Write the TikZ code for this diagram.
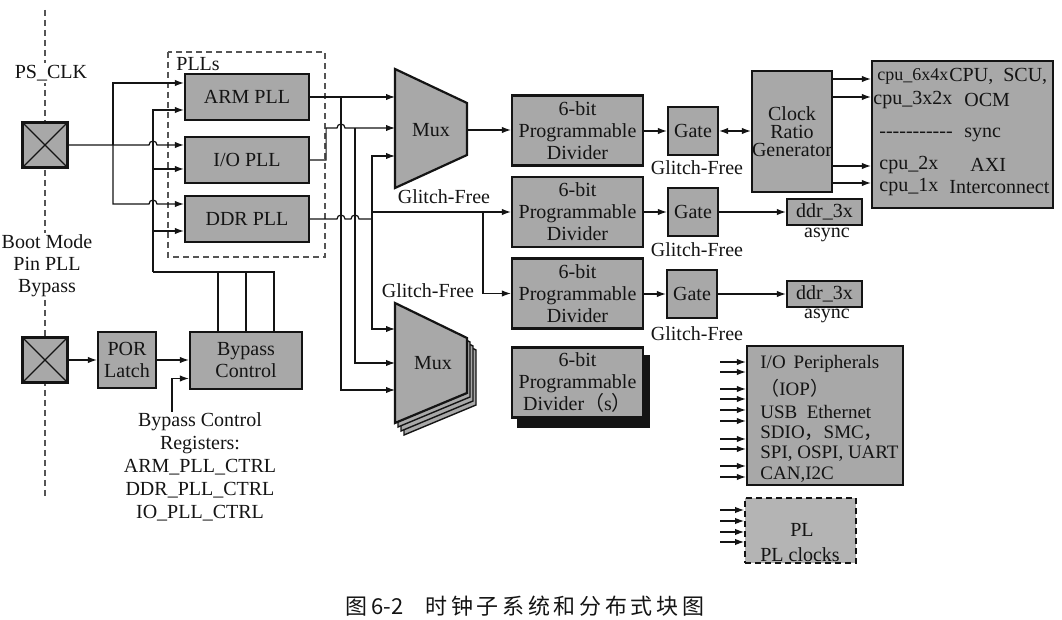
\documentclass[tikz,border=0pt]{standalone}
\usepackage{fontspec}
\setmainfont{Liberation Serif}
\newfontfamily\cjk{Noto Sans CJK SC}
\usepackage{tikz}
\usetikzlibrary{arrows.meta,positioning,calc,backgrounds}
\definecolor{Ink}{HTML}{141414}
\definecolor{Block}{HTML}{A8A8A8}
\definecolor{PLFill}{HTML}{B4B4B4}
\definecolor{Pin}{HTML}{555555}
\tikzset{
  blk/.style={draw=Ink,line width=1.1pt,fill=Block,align=center,inner sep=0pt,text=Ink,font=\fontsize{10}{11}\selectfont},
  pad/.style={blk,minimum width=22.5pt,minimum height=22.5pt},
  pllbox/.style={blk,minimum width=62pt,minimum height=23pt},
  divbox/.style={blk,minimum width=65.5pt,minimum height=35pt},
  gatebox/.style={blk,minimum width=25pt,minimum height=24pt},
  muxbody/.style={draw=Ink,line width=1.1pt,fill=Block,line join=miter},
  wire/.style={line width=0.6pt,draw=Ink},
  arr/.style={-{Latex[length=4.5pt,width=3.2pt]},line width=0.6pt,draw=Ink},
  arrboth/.style={{Latex[length=4.5pt,width=3.2pt]}-{Latex[length=4.5pt,width=3.2pt]},line width=0.6pt,draw=Ink},
  lbl/.style={font=\fontsize{10}{11}\selectfont,text=Ink,align=center,inner sep=0pt},
  grp/.style={draw=Pin,line width=0.6pt,dash pattern=on 3pt off 2pt}
}
\begin{document}
\begin{tikzpicture}[x=0.5pt,y=-0.5pt]
\useasboundingbox (0,0) rectangle (1062,620);
% PS pin boundary
\draw[grp] (45,10) -- (45,497);
\node[lbl,fill=white,inner sep=1pt] (psclk) at (51,73) {PS\_CLK};
\node[lbl,fill=white,inner sep=1pt] (bootmode) at (47,266) {Boot Mode\\Pin PLL\\Bypass};
\node[pad] (clkpad) at (45,145) {};
\node[pad] (bootpad) at (45,360) {};
\draw[wire] (clkpad.north west) -- (clkpad.south east) (clkpad.north east) -- (clkpad.south west);
\draw[wire] (bootpad.north west) -- (bootpad.south east) (bootpad.north east) -- (bootpad.south west);

% PLLs
\draw[grp] (168,52) rectangle (325,257);
\node[lbl,anchor=west] (pllslbl) at (176,64) {PLLs};
\node[pllbox] (armpll) at (247,97) {ARM PLL};
\node[pllbox] (iopll) at (247,160) {I/O PLL};
\node[pllbox] (ddrpll) at (247,219) {DDR PLL};
\coordinate (armin1) at ($(armpll.west)+(0,-14)$);
\coordinate (armin2) at ($(armpll.west)+(0,13)$);
\coordinate (ioin1) at ($(iopll.west)+(0,-15)$);
\coordinate (ioin2) at ($(iopll.west)+(0,9)$);
\coordinate (ddrin1) at ($(ddrpll.west)+(0,-15)$);
\coordinate (ddrin2) at ($(ddrpll.west)+(0,12)$);
\coordinate (ckA) at (113,145);
\coordinate (bpA) at (153,272);
\draw[arr] (clkpad.east) -- (149,145) arc (180:360:4) -- (ioin1);
\draw[arr] (ckA) |- (armin1);
\draw[arr] (ckA) |- ($(ddrin1 -| bpA)+(-4,0)$) arc (180:360:4) -- (ddrin1);
\draw[arr] (bpA) |- (armin2);
\draw[arr] (ioin2 -| bpA) -- (ioin2);
\draw[arr] (ddrin2 -| bpA) -- (ddrin2);

% bypass path
\node[blk,minimum width=29pt,minimum height=28pt] (por) at (127,360) {POR\\Latch};
\node[blk,minimum width=56pt,minimum height=28.5pt] (byp) at (246,360.5) {Bypass\\Control};
\draw[arr] (bootpad.east) -- (por.west);
\draw[arr] (por.east) -- (por.east -| byp.west);
\draw[wire] (bpA) -- ++(122,0);
\foreach \dx in {-28,0,28}
  \draw[wire] ($(byp.north)+(\dx,0)$) -- ++(0,-60);
\node[lbl,anchor=north,font=\fontsize{10}{11.5}\selectfont] (regs) at (200,412) {Bypass Control\\Registers:\\ARM\_PLL\_CTRL\\DDR\_PLL\_CTRL\\IO\_PLL\_CTRL};
\coordinate (regup) at (172,412);
\draw[arr] (regup) |- ($(byp.west)+(0,18)$);

% multiplexers
\draw[muxbody] (395,69) -- (467,103) -- (467,155) -- (395,188) -- cycle;
\node[lbl] (mux1) at (431,130) {Mux};
\foreach \d in {3,2,1}
  \draw[muxbody,line width=0.7pt,shift={(3*\d,4*\d)}] (395,303) -- (467,338) -- (467,393) -- (395,423) -- cycle;
\draw[muxbody] (395,303) -- (467,338) -- (467,393) -- (395,423) -- cycle;
\node[lbl] (mux2) at (433,363) {Mux};
\node[lbl] (gfm1) at (444,197) {Glitch-Free};
\node[lbl] (gfm2) at (428,291) {Glitch-Free};
\coordinate (m1i1) at (395,97);
\coordinate (m1i2) at (395,128);
\coordinate (m1i3) at (395,156);
\coordinate (m2i1) at (395,329);
\coordinate (m2i2) at (395,363);
\coordinate (m2i3) at (395,390);
\coordinate (mux1e) at (467,130);

% PLL outputs to the muxes
\coordinate (armbus) at (341,97);
\coordinate (iobus) at (355,128);
\coordinate (ddrbus) at (372,219);
\draw[arr] (armpll.east) -- (m1i1);
\draw[arr] (armbus) |- (m2i3);
\draw[arr] (iopll.east) -- ++(16,0) |- (337,128) arc (180:360:4) -- (m1i2);
\draw[arr] (iobus) |- (m2i2);
\draw[wire] (ddrpll.east) -- (337,219) arc (180:360:4) -- (351,219) arc (180:360:4) -- (ddrbus);
\draw[arr] (ddrbus) |- (m1i3);
\draw[arr] (ddrbus) |- (m2i1);

% dividers
\node[divbox] (div1) at (577.5,130.5) {6-bit\\Programmable\\Divider};
\node[divbox] (div2) at (577.5,212) {6-bit\\Programmable\\Divider};
\node[divbox] (div3) at (577.5,293.5) {6-bit\\Programmable\\Divider};
\node[divbox] (divs) at (577.5,382.5) {6-bit\\Programmable\\Divider{\cjk （}s{\cjk ）}};
\begin{scope}[on background layer]
  \fill[Ink] ($(divs.north west)+(6,9)$) rectangle ($(divs.south east)+(6,9)$);
\end{scope}
\coordinate (ddrbr) at (372,212);
\coordinate (d3br) at (483,212);
\draw[arr] (mux1e) -- (mux1e -| div1.west);
\draw[arr] (ddrbr) -- (div2.west);
\draw[arr] (d3br) |- (div3.west);

% gates
\node[gatebox] (gate1) at (693,131) {Gate};
\node[gatebox] (gate2) at (693,212) {Gate};
\node[gatebox] (gate3) at (692,294) {Gate};
\node[lbl] (gf1) at (697,168) {Glitch-Free};
\node[lbl] (gf2) at (697,250) {Glitch-Free};
\node[lbl] (gf3) at (697,334) {Glitch-Free};
\draw[arr] (div1.east |- gate1.west) -- (gate1.west);
\draw[arr] (div2.east) -- (gate2.west);
\draw[arr] (div3.east |- gate3.west) -- (gate3.west);

% clock ratio generator and CPU domain
\node[blk,minimum width=40pt,minimum height=60.5pt,font=\fontsize{10}{9}\selectfont] (crg) at (792,131.5) {Clock\\Ratio\\Generator};
\draw[arrboth] (gate1.east) -- (gate1.east -| crg.west);
\node[blk,minimum width=90.5pt,minimum height=73.5pt] (cpu) at (962.5,134.5) {};
\foreach \y in {79,97,166,183}
  \draw[arr] (crg.east |- 0,\y) -- (cpu.west |- 0,\y);
\node[lbl,anchor=west,font=\fontsize{9}{10}\selectfont] (cpuA) at (877,76) {cpu\_6x4x};
\node[lbl,anchor=west] (cpuAr) at (949,76) {CPU,\ \ SCU,};
\node[lbl,anchor=west] (cpuB) at (873,100) {cpu\_3x2x};
\node[lbl,anchor=west] (cpuBr) at (964,100) {OCM};
\node[lbl,anchor=west] (cpuC) at (879,135) {{-}{-}{-}{-}{-}{-}{-}{-}{-}{-}{-}};
\node[lbl,anchor=west] (cpuCr) at (964,135) {sync};
\node[lbl,anchor=west] (cpuD) at (879,165) {cpu\_2x};
\node[lbl,anchor=west] (cpuDr) at (970,165) {AXI};
\node[lbl,anchor=west] (cpuE) at (879,187) {cpu\_1x};
\node[lbl,anchor=west] (cpuEr) at (949,187) {Interconnect};

% async DDR clocks
\node[blk,minimum width=37.5pt,minimum height=13pt] (ddr3a) at (824.5,212) {ddr\_3x};
\node[blk,minimum width=37.5pt,minimum height=13pt] (ddr3b) at (824.5,294) {ddr\_3x};
\node[lbl] (asy1) at (827,235) {async};
\node[lbl] (asy2) at (827,316) {async};
\draw[arr] (gate2.east) -- (ddr3a.west);
\draw[arr] (gate3.east) -- (ddr3b.west);

% I/O peripherals
\node[blk,minimum width=78pt,minimum height=69.5pt] (iop) at (825,415.5) {};
\foreach \y/\t [count=\i] in {364/{I/O\hspace{4pt}Peripherals},388/{{\cjk （}IOP{\cjk ）}},412/{USB\ \ Ethernet},433/{SDIO{\cjk ，}SMC{\cjk ，}},454/{SPI, OSPI, UART},475/{CAN,I2C}}
  \node[lbl,anchor=west,font=\fontsize{9.5}{10}\selectfont] (iopt\i) at (760,\y) {\t};
\foreach \y in {362,372,389,399,410,421,439,449,466,477}
  \draw[arr] (720,\y) -- (iop.west |- 0,\y);

% PL clocks
\node[blk,fill=PLFill,dash pattern=on 3pt off 2pt,line width=0.9pt,minimum width=55.5pt,minimum height=32.5pt] (pl) at (800.5,530.5) {};
\node[lbl] (pllbl) at (802,530) {PL};
\node[lbl] (plclk) at (800,555) {PL clocks};
\foreach \y in {510,521,532,542}
  \draw[arr] (720,\y) -- (pl.west |- 0,\y);

% caption
\node[font=\cjk\fontsize{11}{12}\selectfont,text=Ink] (caption) at (525,606) {图\,6-2\quad 时\,钟\,子\,系\,统\,和\,分\,布\,式\,块\,图};
\end{tikzpicture}
\end{document}
